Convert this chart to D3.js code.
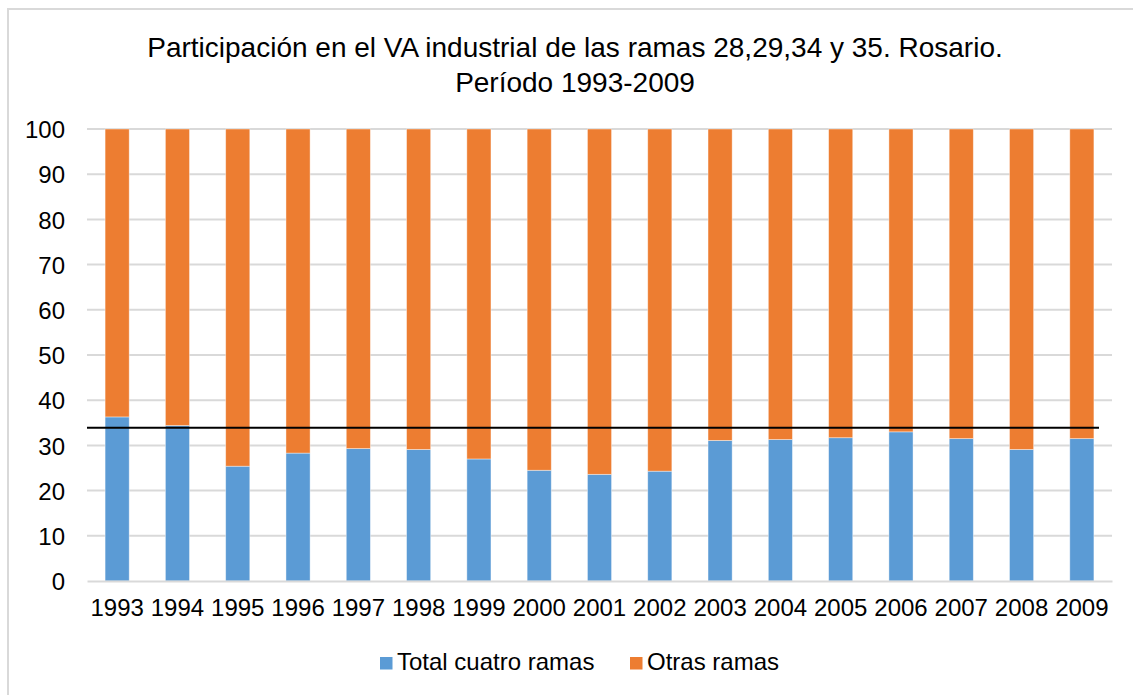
<!DOCTYPE html>
<html>
<head>
<meta charset="utf-8">
<script src="https://cdn.jsdelivr.net/npm/d3@7"></script>
<style>
  body { margin: 0; background: #fff; }
  text { font-family: "Liberation Sans", Arial, sans-serif; fill: #000; }
</style>
</head>
<body>
<div id="chart"></div>
<script>
var years = ["1993", "1994", "1995", "1996", "1997", "1998", "1999", "2000", "2001",
             "2002", "2003", "2004", "2005", "2006", "2007", "2008", "2009"];
var totalCuatro = [36.3, 34.4, 25.4, 28.3, 29.3, 29.1, 27.0, 24.5, 23.6,
                   24.3, 31.1, 31.3, 31.7, 33.0, 31.5, 29.1, 31.5];
var otrasRamas = [63.7, 65.6, 74.6, 71.7, 70.7, 70.9, 73.0, 75.5, 76.4,
                  75.7, 68.9, 68.7, 68.3, 67.0, 68.5, 70.9, 68.5];
var seriesNames = ["Total cuatro ramas", "Otras ramas"];
var yTicks = [0, 10, 20, 30, 40, 50, 60, 70, 80, 90, 100];
var refValue = 33.9;

var width = 1133, height = 695;
var margin = {top: 129, right: 21, bottom: 114, left: 87};
var colors = ["#5b9bd5", "#ed7d31"];

var svg = d3.select("#chart").append("svg")
    .attr("width", width)
    .attr("height", height);

// chart border
svg.append("rect")
    .attr("x", 8).attr("y", 9)
    .attr("width", width + 20).attr("height", height + 20)
    .attr("fill", "none")
    .attr("stroke", "#d9d9d9")
    .attr("stroke-width", 2);

var x = d3.scaleBand()
    .domain(years)
    .range([margin.left, width - margin.right])
    .paddingInner(0.6)
    .paddingOuter(0.3);

var y = d3.scaleLinear()
    .domain([0, 100])
    .range([height - margin.bottom, margin.top]);

// title
var title = svg.append("text")
    .attr("text-anchor", "middle")
    .style("font-size", "28px");
title.append("tspan").attr("x", 575).attr("y", 57)
    .text("Participación en el VA industrial de las ramas 28,29,34 y 35. Rosario.");
title.append("tspan").attr("x", 575).attr("y", 92)
    .text("Período 1993-2009");

// gridlines
svg.append("g")
  .selectAll("line")
  .data(yTicks.filter(function(d) { return d > 0; }))
  .enter().append("line")
    .attr("x1", x.range()[0])
    .attr("x2", x.range()[1])
    .attr("y1", function(d) { return y(d); })
    .attr("y2", function(d) { return y(d); })
    .attr("stroke", "#d9d9d9")
    .attr("stroke-width", 2);

// y axis labels
var yAxis = svg.append("g")
    .attr("transform", "translate(" + (margin.left - 22) + ",0)")
    .call(d3.axisLeft(y).tickValues(yTicks).tickSize(0).tickPadding(0));
yAxis.select(".domain").remove();
yAxis.selectAll("text")
    .style("font-size", "24px")
    .attr("dy", "0.36em");

// stacked bars
var table = years.map(function(yr, i) {
  return {year: yr, "Total cuatro ramas": totalCuatro[i], "Otras ramas": otrasRamas[i]};
});
var stacked = d3.stack().keys(seriesNames)(table);

svg.append("g")
  .selectAll("g")
  .data(stacked)
  .enter().append("g")
    .attr("fill", function(d, i) { return colors[i]; })
  .selectAll("rect")
  .data(function(d) { return d; })
  .enter().append("rect")
    .attr("x", function(d) { return x(d.data.year); })
    .attr("width", x.bandwidth())
    .attr("y", function(d) { return y(d[1]); })
    .attr("height", function(d) { return y(d[0]) - y(d[1]); })
    .attr("stroke", "#fff")
    .attr("stroke-opacity", 0.5)
    .attr("stroke-width", 0.8);

// x axis
var xAxis = svg.append("g")
    .attr("transform", "translate(0," + y(0) + ")")
    .call(d3.axisBottom(x).tickSize(0).tickPadding(20));
xAxis.select(".domain")
    .attr("stroke", "#d9d9d9")
    .attr("stroke-width", 2);
xAxis.selectAll("text")
    .style("font-size", "24px")
    .attr("dy", "0.62em");

// reference line
svg.append("line")
    .attr("x1", x.range()[0])
    .attr("x2", x.range()[1] - 13)
    .attr("y1", y(refValue))
    .attr("y2", y(refValue))
    .attr("stroke", "#000")
    .attr("stroke-width", 2);

// legend
var legendX = [380, 630];
var legend = svg.append("g")
  .selectAll("g")
  .data(seriesNames)
  .enter().append("g")
    .attr("transform", function(d, i) { return "translate(" + legendX[i] + ",657)"; });
legend.append("rect")
    .attr("width", 12.5).attr("height", 12.5)
    .attr("fill", function(d, i) { return colors[i]; });
legend.append("text")
    .attr("x", 17).attr("y", 13)
    .style("font-size", "24px")
    .text(function(d) { return d; });
</script>
</body>
</html>
